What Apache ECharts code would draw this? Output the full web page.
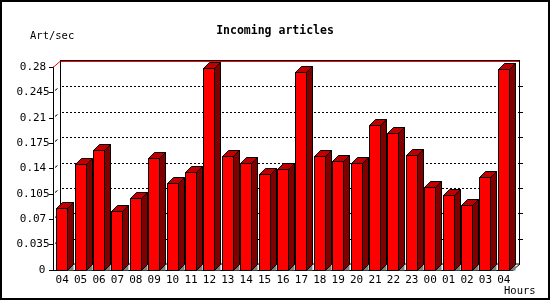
<!DOCTYPE html>
<html><head><meta charset="utf-8">
<script src="https://cdn.jsdelivr.net/npm/echarts@6/dist/echarts.min.js"></script>
<style>html,body{margin:0;padding:0;background:#fff}#c{width:550px;height:300px}</style>
</head><body><div id="c"></div>
<script>
var hours = ['04','05','06','07','08','09','10','11','12','13','14','15','16','17','18','19','20','21','22','23','00','01','02','03','04'];
var artPerSec = [0.085,0.146,0.165,0.082,0.099,0.154,0.120,0.135,0.278,0.157,0.147,0.132,0.139,0.273,0.157,0.150,0.147,0.1995,0.1885,0.159,0.114,0.104,0.089,0.128,0.277];
var yTickLabels = ['0','0.035','0.07','0.105','0.14','0.175','0.21','0.245','0.28'];
var yStep = 0.035, yMax = 0.28;

var MONO = '"DejaVu Sans Mono", "Liberation Mono", monospace';
var DX = 7, DY = 6, BD = 6, BW = 11;

function renderFrame(params, api) {
  var cs = params.coordSys;
  var L = cs.x, R = cs.x + cs.width, T = cs.y, B = cs.y + cs.height;
  var ch = [];
  function line(x1,y1,x2,y2,color,dash){
    ch.push({type:'line', shape:{x1:x1,y1:y1,x2:x2,y2:y2}, style:{stroke:color, lineWidth:1, lineDash:dash||null}});
  }
  for (var i = 1; i < yTickLabels.length - 1; i++) {
    var y = Math.round(api.coord([0, i * yStep])[1] - DY) + 0.5;
    line(L + DX + 2, y, R + DX, y, '#000', [2, 2]);
    line(R + DX, y, R + DX + 3, y, '#000');
    line(L + 2, y + 4, L + 4.5, y + 2, '#000');
  }
  var yt = Math.round(api.coord([0, yMax])[1]) + 0.5;
  line(L + DX, yt - DY - 1, R + DX, yt - DY - 1, '#000');
  line(L + DX, yt - DY, R + DX, yt - DY, '#ff0000');
  line(L, yt, L + DX, yt - DY, '#ff0000');
  line(L + DX + 0.5, yt - DY, L + DX + 0.5, B - DY, '#000');
  line(R + DX - 0.5, yt - DY - 1, R + DX - 0.5, B - DY, '#000');
  line(L + DX, B - DY, R + DX, B - DY, '#000');
  line(R, B, R + DX, B - DY, '#000');
  return {type:'group', children: ch};
}

function renderBar(params, api) {
  var idx = api.value(0), v = api.value(1);
  var p = api.coord([idx, v]), b = api.coord([idx, 0]);
  var xl = Math.round(p[0] - 6) + 0.5, xr = xl + BW;
  var yt = Math.round(p[1]) + 0.5, yb = Math.round(b[1]) + 0.5;
  var st = {stroke:'#000', lineWidth:1};
  return {type:'group', children:[
    {type:'polygon', shape:{points:[[xr,yb],[xr+BD,yb-BD],[xr+BD,yb]]}, style:{fill:'#808080'}},
    {type:'polygon', shape:{points:[[xr,yt],[xr+BD,yt-BD],[xr+BD,yb-BD],[xr,yb]]}, style:Object.assign({fill:'#800000'}, st)},
    {type:'polygon', shape:{points:[[xl,yt],[xl+BD,yt-BD],[xr+BD,yt-BD],[xr,yt]]}, style:Object.assign({fill:'#c00000'}, st)},
    {type:'rect', shape:{x:xl, y:yt, width:BW, height:yb-yt}, style:Object.assign({fill:'#ff0000'}, st)}
  ]};
}

var chart = echarts.init(document.getElementById('c'), null, {renderer:'canvas'});
chart.setOption({
  animation: false,
  backgroundColor: '#fff',
  title: {text:'Incoming articles', left:'center', top:20,
    textStyle:{fontFamily:MONO, fontSize:11.5, fontWeight:'bold', color:'#000'}},
  graphic: [
    {type:'rect', shape:{x:1, y:1, width:548, height:298}, style:{fill:null, stroke:'#000', lineWidth:2}, z:100},
    {type:'text', left:30, top:31, style:{text:'Art/sec', font:'10.5px ' + MONO, fill:'#000'}},
    {type:'text', left:504, top:286, style:{text:'Hours', font:'10.5px ' + MONO, fill:'#000'}}
  ],
  grid: {left:53, right:37, top:67, bottom:30},
  xAxis: {type:'category', data:hours, boundaryGap:true,
    axisLine:{lineStyle:{color:'#000', width:1}},
    axisTick:{length:4, lineStyle:{color:'#000'}},
    axisLabel:{color:'#000', fontFamily:MONO, fontSize:11, margin:5, interval:0},
    splitLine:{show:false}},
  yAxis: {type:'value', min:0, max:yMax, interval:yStep,
    axisLine:{show:true, lineStyle:{color:'#000', width:1}},
    axisTick:{show:true, length:4, lineStyle:{color:'#000'}},
    axisLabel:{color:'#000', fontFamily:MONO, fontSize:11, margin:20, align:'center',
      formatter:function(v){ var s = yTickLabels[Math.round(v / yStep)]; return s === '0' ? '{z|0}' : s; },
      rich:{z:{fontFamily:MONO, fontSize:11, color:'#000', padding:[0,0,0,18]}}},
    splitLine:{show:false}},
  series: [
    {type:'custom', renderItem:renderFrame, data:[[0,0]], z:1, silent:true, clip:false},
    {type:'custom', renderItem:renderBar, data:artPerSec.map(function(v,i){return [i,v];}), z:2, clip:false,
      encode:{x:0, y:1}}
  ]
});
</script></body></html>
